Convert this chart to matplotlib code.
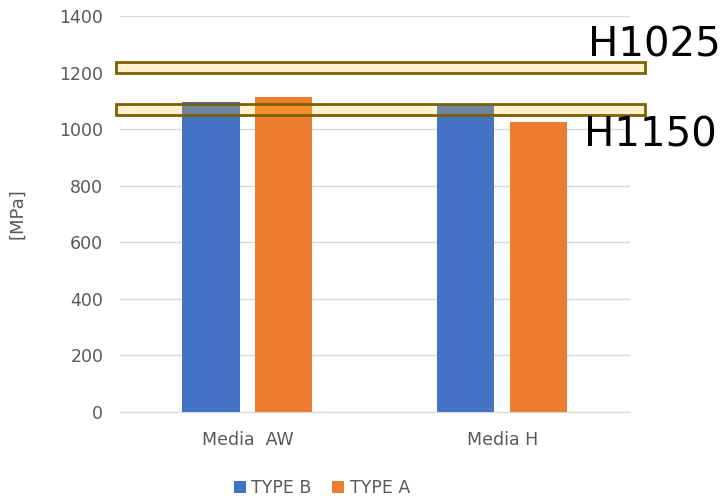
import numpy as np
import matplotlib.pyplot as plt
from matplotlib.patches import Rectangle

# dane
categories = ['Media  AW', 'Media H']
type_b = [1096, 1090]
type_a = [1113, 1026]
series_names = ['TYPE B', 'TYPE A']
ref_labels = ['H1025', 'H1150']
ref_values = [1218, 1069]

GRAY = '#595959'
plt.rcParams['font.family'] = ['DejaVu Sans']

fig = plt.figure(figsize=(7.23, 5), dpi=100)
ax = fig.add_axes([0.166, 0.176, 0.705, 0.792])

x = np.arange(len(categories))
w = 0.224
ax.bar(x - 0.143, type_b, w, color='#4472C4', label=series_names[0], zorder=2)
ax.bar(x + 0.143, type_a, w, color='#ED7D31', label=series_names[1], zorder=2)

# pasma referencyjne (H1025, H1150) - półprzezroczyste
band = 19
for lab, val in zip(ref_labels, ref_values):
    ax.add_patch(Rectangle((-0.516, val - band), 2.075, 2 * band,
                           facecolor=(1.0, 0.77, 0.09, 0.22), edgecolor='#7F6000', lw=2,
                           clip_on=False, zorder=3))

ax.text(1.335, ref_values[0] + 40, ref_labels[0], fontsize=29, color='black',
        va='baseline', ha='left', clip_on=False)
ax.text(1.322, ref_values[1] - 20, ref_labels[1], fontsize=29, color='black',
        va='top', ha='left', clip_on=False)

ax.set_xlim(-0.5, 1.5)
ax.set_ylim(0, 1400)
ax.set_yticks(range(0, 1401, 200))
ax.set_xticks(x)
ax.set_xticklabels(categories)
ax.tick_params(axis='both', length=0, colors=GRAY, labelsize=12.5)
ax.tick_params(axis='x', pad=14)
ax.tick_params(axis='y', pad=12)
ax.grid(axis='y', color='#D9D9D9', lw=1, zorder=0)
for s in ['top', 'right', 'left']:
    ax.spines[s].set_visible(False)
ax.spines['bottom'].set_color('#D9D9D9')
ax.set_ylabel('[MPa]', color=GRAY, fontsize=13, labelpad=24)

fig.legend(loc='lower center', bbox_to_anchor=(0.445, -0.025), ncol=2, frameon=False,
           fontsize=12.5, labelcolor=GRAY, handlelength=0.7, handleheight=0.7,
           handletextpad=0.3, columnspacing=1.2)

plt.savefig('out.png', dpi=100)
